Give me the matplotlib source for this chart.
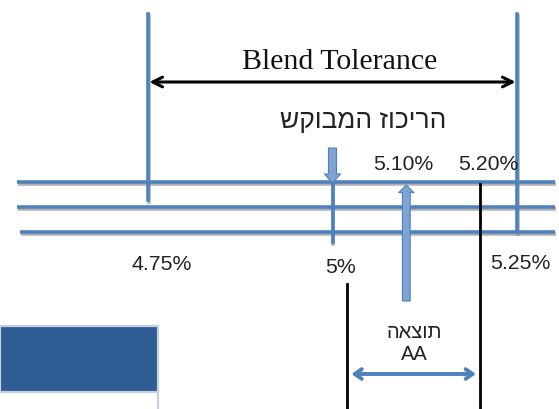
import matplotlib
matplotlib.use("Agg")
import matplotlib.pyplot as plt
import matplotlib.patheffects as pe
from matplotlib.patches import Rectangle

# values (percent)
tol_low = 4.75
tol_high = 5.25
target = 5.00
result = 5.10
result_high = 5.20
aa_low = 5.02

tol_label = "Blend Tolerance"
target_label = "הריכוז המבוקש"
result_label = "תוצאה"
aa_label = "AA"
bottom_ticks = [4.75, 5.00, 5.25]
bottom_labels = ["4.75%", "5%", "5.25%"]
top_ticks = [5.10, 5.20]
top_labels = ["5.10%", "5.20%"]

BLUE = "#4f81bd"
SANS = ["Liberation Sans", "DejaVu Sans"]


def rtl(s):
    # matplotlib has no bidi support, so hebrew is drawn reversed
    return s[::-1]


shadow = [pe.SimpleLineShadow(offset=(0.6, -1.2), shadow_color="#808080", alpha=0.6),
          pe.Normal()]

fig = plt.figure(figsize=(5.59, 4.10), dpi=100)
ax = fig.add_axes([0, 0, 1, 1])
# x in percent (4.75 -> px 148, 5.25 -> px 517), y in layout pixels
scale = (517 - 148) / (tol_high - tol_low)
ax.set_xlim(tol_low - 148 / scale, tol_low + (559 - 148) / scale)
ax.set_ylim(410, 0)
ax.axis("off")

# three horizontal rails
for y, x0 in [(183, 17), (208, 17), (233, 20)]:
    ax.plot([x0 / 559, 555 / 559], [y, y], color=BLUE, lw=2.6,
            transform=ax.get_yaxis_transform(), path_effects=shadow, solid_capstyle="butt")

# tolerance limits
ax.plot([tol_low, tol_low], [15, 201], color=BLUE, lw=2.6, path_effects=shadow)
ax.plot([tol_high, tol_high], [15, 233], color=BLUE, lw=2.6, path_effects=shadow)
ax.plot([target, target], [183, 243], color=BLUE, lw=2.6, path_effects=shadow)

# blend tolerance arrow
ax.annotate("", xy=(tol_high, 83), xytext=(tol_low, 83),
            arrowprops=dict(arrowstyle="<->,head_length=0.7,head_width=0.35",
                            color="black", lw=2.2, shrinkA=1, shrinkB=1))
ax.annotate(tol_label, xy=((tol_low + tol_high) / 2, 69), xytext=(7, 0),
            textcoords="offset pixels", ha="center", va="baseline",
            fontsize=21.5, family=["Liberation Serif", "DejaVu Serif"], color="#111111")

# requested concentration
ax.annotate(rtl(target_label), xy=(target, 128), xytext=(31, 0),
            textcoords="offset pixels", ha="center", va="baseline",
            fontsize=19, family=SANS, color="#222222")
ax.annotate("", xy=(target, 184), xytext=(target, 149),
            arrowprops=dict(arrowstyle="simple,head_width=1.15,head_length=0.65,tail_width=0.58",
                            fc="#7fa3d3", ec=BLUE, lw=0.8, shrinkA=0, shrinkB=0))

# result arrow
ax.annotate("", xy=(result, 186), xytext=(result, 302),
            arrowprops=dict(arrowstyle="simple,head_width=1.1,head_length=0.55,tail_width=0.56",
                            fc="#7fa3d3", ec=BLUE, lw=0.8, shrinkA=0, shrinkB=0))

# AA range
ax.plot([result_high, result_high], [185, 410], color="black", lw=2)
ax.plot([aa_low, aa_low], [285, 410], color="black", lw=2)
ax.annotate("", xy=(result_high, 375), xytext=(aa_low, 375),
            arrowprops=dict(arrowstyle="<->,head_length=0.5,head_width=0.35",
                            color=BLUE, lw=2.8, shrinkA=3, shrinkB=3))
ax.annotate(rtl(result_label), xy=(result, 338), xytext=(8, 0),
            textcoords="offset pixels", ha="center", va="baseline",
            fontsize=14.5, family=SANS, color="#222222")
ax.annotate(aa_label, xy=(result, 360), xytext=(8, 0),
            textcoords="offset pixels", ha="center", va="baseline",
            fontsize=14.5, family=SANS, color="#222222")

# percent labels
bottom_shift = [(14, 270), (8, 273), (3, 269)]
for v, lab, (dx, yb) in zip(bottom_ticks, bottom_labels, bottom_shift):
    ax.annotate(lab, xy=(v, yb), xytext=(dx, 0), textcoords="offset pixels",
                ha="center", va="baseline", fontsize=15.3, family=SANS, color="#222222")
top_shift = [-3, 8]
for v, lab, dx in zip(top_ticks, top_labels, top_shift):
    ax.annotate(lab, xy=(v, 170), xytext=(dx, 0), textcoords="offset pixels",
                ha="center", va="baseline", fontsize=15.3, family=SANS, color="#222222")

# table header cell at bottom left
ax.add_patch(Rectangle((0, 327), 158 / 559, 66, transform=ax.get_yaxis_transform(),
                       fc="#2e5d96", ec="#c6d0dc", lw=1.6))
ax.plot([158 / 559, 158 / 559], [393, 410], color="#c6d0dc", lw=1.6,
        transform=ax.get_yaxis_transform())

fig.savefig("out.png", dpi=100)
